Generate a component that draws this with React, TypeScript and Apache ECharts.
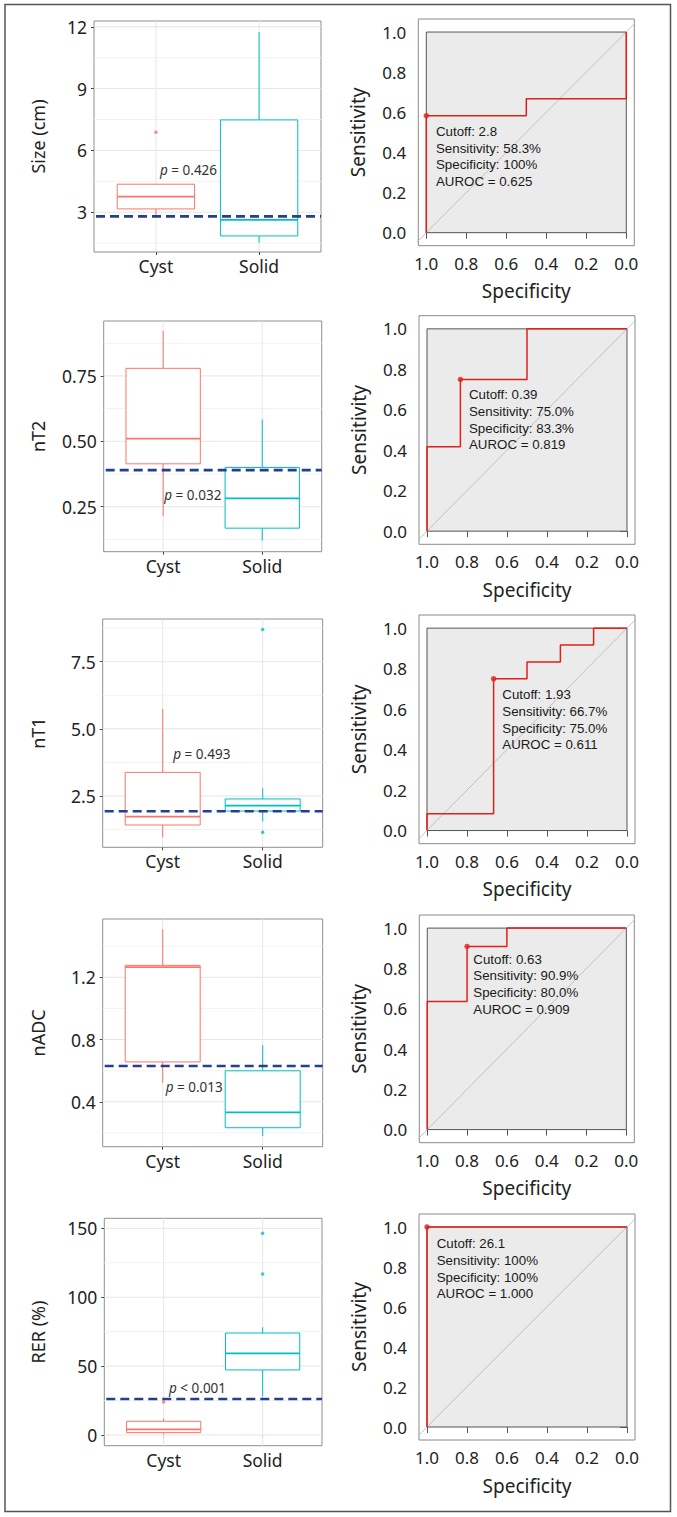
import React, { useEffect, useRef } from "react";
import * as echarts from "echarts";

// ---------------- Data ----------------
const CATEGORIES = ["Cyst", "Solid"];
const CATEGORY_POS = [1, 2];

const VARIABLE_NAMES = ["Size (cm)", "nT2", "nT1", "nADC", "RER (%)"];

// y-axis ranges of the box-plot panels
const BOX_Y_RANGES = [
  [1.07, 12.28],
  [0.078, 0.96],
  [0.59, 9.09],
  [0.111, 1.575],
  [-7.8, 157.3],
];
const BOX_Y_TICKS = [
  [3, 6, 9, 12],
  [0.25, 0.5, 0.75],
  [2.5, 5, 7.5],
  [0.4, 0.8, 1.2],
  [0, 50, 100, 150],
];
const BOX_Y_TICK_LABELS = [
  ["3", "6", "9", "12"],
  ["0.25", "0.50", "0.75"],
  ["2.5", "5.0", "7.5"],
  ["0.4", "0.8", "1.2"],
  ["0", "50", "100", "150"],
];
const BOX_Y_MINOR = [
  [1.5, 4.5, 7.5, 10.5],
  [0.125, 0.375, 0.625, 0.875],
  [1.25, 3.75, 6.25, 8.75],
  [0.2, 0.6, 1.0, 1.4],
  [25, 75, 125],
];

// [lower whisker, Q1, median, Q3, upper whisker]
const CYST_BOXES = [
  [2.87, 3.16, 3.76, 4.36, 4.36],
  [0.214, 0.414, 0.51, 0.779, 0.922],
  [0.96, 1.42, 1.73, 3.38, 5.74],
  [0.522, 0.656, 1.266, 1.277, 1.509],
  [0.5, 1.7, 4.1, 9.9, 12.0],
];
const SOLID_BOXES = [
  [1.52, 1.85, 2.63, 7.48, 11.74],
  [0.12, 0.168, 0.282, 0.4, 0.583],
  [1.55, 1.94, 2.14, 2.39, 2.79],
  [0.18, 0.233, 0.332, 0.599, 0.763],
  [27.8, 47.2, 59.3, 74.0, 78.2],
];
const CYST_OUTLIERS = [[6.88], [], [], [], [24]];
const SOLID_OUTLIERS = [[], [], [8.7, 1.15], [], [146.4, 116.9]];

const CUTOFFS = [2.8, 0.39, 1.93, 0.63, 26.1];
const P_VALUES = ["= 0.426", "= 0.032", "= 0.493", "= 0.013", "< 0.001"];

// ROC curves: [specificity, sensitivity]
const ROC_CURVES = [
  [[1, 0], [1, 0.583], [0.5, 0.583], [0.5, 0.667], [0, 0.667], [0, 1]],
  [[1, 0], [1, 0.417], [0.833, 0.417], [0.833, 0.75], [0.5, 0.75], [0.5, 1], [0, 1]],
  [[1, 0], [1, 0.083], [0.667, 0.083], [0.667, 0.75], [0.5, 0.75], [0.5, 0.833], [0.333, 0.833], [0.333, 0.917], [0.167, 0.917], [0.167, 1], [0, 1]],
  [[1, 0], [1, 0.636], [0.8, 0.636], [0.8, 0.909], [0.6, 0.909], [0.6, 1], [0, 1]],
  [[1, 0], [1, 1], [0, 1]],
];
const ROC_OPTIMAL = [[1, 0.583], [0.833, 0.75], [0.667, 0.75], [0.8, 0.909], [1, 1]];
const ROC_CUTOFF_TEXT = ["2.8", "0.39", "1.93", "0.63", "26.1"];
const ROC_SENS_TEXT = ["58.3%", "75.0%", "66.7%", "90.9%", "100%"];
const ROC_SPEC_TEXT = ["100%", "83.3%", "75.0%", "80.0%", "100%"];
const ROC_AUC_TEXT = ["0.625", "0.819", "0.611", "0.909", "1.000"];
const ROC_TICKS = [0, 0.2, 0.4, 0.6, 0.8, 1.0];
const ROC_X_RANGE = [-0.04, 1.04];
const ROC_Y_RANGE = [-0.065, 1.065];

// ---------------- Layout ----------------
const BOX_GRIDS = [
  { left: 94, top: 21, width: 227, height: 231 },
  { left: 103.7, top: 321, width: 218, height: 230.7 },
  { left: 102.7, top: 619, width: 220, height: 228.3 },
  { left: 102.7, top: 919, width: 220, height: 227.7 },
  { left: 104.3, top: 1218.3, width: 217.7, height: 227.4 },
];
const ROC_GRIDS = [
  { left: 418.3, top: 19, width: 216, height: 226.7 },
  { left: 419, top: 315.7, width: 216, height: 228.6 },
  { left: 419, top: 615, width: 216, height: 228.7 },
  { left: 419.3, top: 915, width: 215, height: 227.7 },
  { left: 419, top: 1214, width: 216, height: 226 },
];
const P_TEXT_POS = [[160, 170], [164.3, 495], [173.3, 754], [165.7, 1086.7], [169, 1388.3]];
const ROC_TEXT_POS = [[436, 131.7], [469, 395], [502.3, 695], [473.3, 959.3], [436.7, 1244]];

const FONT = "'Noto Sans', 'DejaVu Sans', sans-serif";
const ARIAL = "'Liberation Sans', Arial, sans-serif";
const CYST_COLOR = "#F8766D";
const SOLID_COLOR = "#00BFC4";
const CUT_COLOR = "#21408f";
const ROC_RED = "#e0201b";

function buildOption() {
  const grid: any[] = [];
  const xAxis: any[] = [];
  const yAxis: any[] = [];
  const series: any[] = [];
  const graphics: any[] = [];

  for (let r = 0; r < 5; r++) {
    // ---------- box plot panel ----------
    const bg = BOX_GRIDS[r];
    const gi = grid.length;
    grid.push({
      left: bg.left, top: bg.top, width: bg.width, height: bg.height,
      show: true, backgroundColor: "#fff", borderColor: "#8f8f8f", borderWidth: 1,
      containLabel: false, outerBoundsMode: "none",
    });
    const ticks = BOX_Y_TICKS[r];
    const tickLabels = BOX_Y_TICK_LABELS[r];
    xAxis.push({
      type: "value", gridIndex: gi, min: 0.4, max: 2.6,
      axisLine: { show: false },
      splitLine: { show: false },
      axisTick: { show: true, length: 3, customValues: CATEGORY_POS, lineStyle: { color: "#444" } },
      axisLabel: {
        customValues: CATEGORY_POS, margin: 5, fontSize: 17.5, color: "#222", fontFamily: FONT,
        formatter: (v: number) => CATEGORIES[Math.round(v) - 1] ?? "",
      },
    });
    yAxis.push({
      type: "value", gridIndex: gi, min: BOX_Y_RANGES[r][0], max: BOX_Y_RANGES[r][1],
      axisLine: { show: false },
      splitLine: { show: false },
      axisTick: { show: true, length: 3, customValues: ticks, lineStyle: { color: "#444" } },
      axisLabel: {
        customValues: ticks, margin: 7, fontSize: 17.5, color: "#222", fontFamily: FONT,
        formatter: (v: number) => {
          const i = ticks.findIndex((t) => Math.abs(t - v) < 1e-9);
          return i >= 0 ? tickLabels[i] : "";
        },
      },
      name: VARIABLE_NAMES[r], nameLocation: "middle", nameRotate: 90,
      nameGap: bg.left - 47, nameMoveOverlap: false,
      nameTextStyle: { fontSize: 18, color: "#222", fontFamily: FONT },
    });

    // grid lines
    const gridData = [
      ...ticks.map((v) => [1.5, v, 0]),
      ...BOX_Y_MINOR[r].map((v) => [1.5, v, 1]),
      ...CATEGORY_POS.map((c) => [c, BOX_Y_RANGES[r][0], 2]),
    ];
    series.push({
      type: "custom", xAxisIndex: gi, yAxisIndex: gi, silent: true, z: 1, clip: true,
      data: gridData,
      renderItem: (params: any, api: any) => {
        const cs = params.coordSys;
        const kind = api.value(2);
        const p = api.coord([api.value(0), api.value(1)]);
        if (kind === 2) {
          return { type: "line", shape: { x1: p[0], y1: cs.y, x2: p[0], y2: cs.y + cs.height }, style: { stroke: "#e6e6e6", lineWidth: 1 } };
        }
        return {
          type: "line",
          shape: { x1: cs.x, y1: p[1], x2: cs.x + cs.width, y2: p[1] },
          style: { stroke: kind === 1 ? "#f2f2f2" : "#e6e6e6", lineWidth: 1 },
        };
      },
    });

    // boxes
    const boxSets = [
      { data: CYST_BOXES[r], pos: CATEGORY_POS[0], color: CYST_COLOR, out: CYST_OUTLIERS[r] },
      { data: SOLID_BOXES[r], pos: CATEGORY_POS[1], color: SOLID_COLOR, out: SOLID_OUTLIERS[r] },
    ];
    boxSets.forEach((b) => {
      series.push({
        type: "custom", xAxisIndex: gi, yAxisIndex: gi, silent: true, z: 3, clip: true,
        data: [[b.pos, ...b.data]],
        renderItem: (params: any, api: any) => {
          const x = api.value(0);
          const lo = api.value(1), q1 = api.value(2), md = api.value(3), q3 = api.value(4), hi = api.value(5);
          const half = 0.375;
          const tl = api.coord([x - half, q3]);
          const br = api.coord([x + half, q1]);
          const mL = api.coord([x - half, md]);
          const mR = api.coord([x + half, md]);
          const pHi = api.coord([x, hi]);
          const pLo = api.coord([x, lo]);
          return {
            type: "group",
            children: [
              { type: "line", shape: { x1: pHi[0], y1: pHi[1], x2: pHi[0], y2: tl[1] }, style: { stroke: b.color, lineWidth: 1 } },
              { type: "line", shape: { x1: pLo[0], y1: br[1], x2: pLo[0], y2: pLo[1] }, style: { stroke: b.color, lineWidth: 1 } },
              { type: "rect", shape: { x: tl[0], y: tl[1], width: br[0] - tl[0], height: br[1] - tl[1] }, style: { fill: "#fff", stroke: b.color, lineWidth: 1 } },
              { type: "line", shape: { x1: mL[0], y1: mL[1], x2: mR[0], y2: mR[1] }, style: { stroke: b.color, lineWidth: 1.8 } },
            ],
          };
        },
      });
      if (b.out.length) {
        series.push({
          type: "scatter", xAxisIndex: gi, yAxisIndex: gi, silent: true, z: 4,
          symbol: "circle", symbolSize: 3.6,
          itemStyle: { color: b.color },
          data: b.out.map((v) => [b.pos, v]),
        });
      }
    });

    // cutoff dashed line
    series.push({
      type: "custom", xAxisIndex: gi, yAxisIndex: gi, silent: true, z: 6, clip: true,
      data: [[1.5, CUTOFFS[r]]],
      renderItem: (params: any, api: any) => {
        const cs = params.coordSys;
        const y = api.coord([api.value(0), api.value(1)])[1];
        return {
          type: "line",
          shape: { x1: cs.x + 2, y1: y, x2: cs.x + cs.width, y2: y },
          style: { stroke: CUT_COLOR, lineWidth: 2.6, lineDash: [9, 5] },
        };
      },
    });

    graphics.push({
      type: "text", x: P_TEXT_POS[r][0], y: P_TEXT_POS[r][1], silent: true, z: 10,
      style: {
        text: "{i|p} " + P_VALUES[r],
        fontSize: 13.5, fontFamily: FONT, fill: "#333",
        verticalAlign: "middle", align: "left",
        rich: { i: { fontStyle: "italic", fontSize: 13.5, fontFamily: FONT, fill: "#333" } },
      },
    });

    // ---------- ROC panel ----------
    const rg = ROC_GRIDS[r];
    const ri = grid.length;
    grid.push({
      left: rg.left, top: rg.top, width: rg.width, height: rg.height,
      show: true, backgroundColor: "#fff", borderColor: "#8a8a8a", borderWidth: 1,
      containLabel: false, outerBoundsMode: "none",
    });
    xAxis.push({
      type: "value", gridIndex: ri, min: ROC_X_RANGE[0], max: ROC_X_RANGE[1], inverse: true,
      axisLine: { show: false }, splitLine: { show: false },
      axisTick: { show: true, length: 6, customValues: ROC_TICKS, lineStyle: { color: "#555" } },
      axisLabel: {
        customValues: ROC_TICKS, margin: 9, fontSize: 17, color: "#222", fontFamily: FONT,
        formatter: (v: number) => v.toFixed(1),
      },
      name: "Specificity", nameLocation: "middle", nameGap: 36, nameMoveOverlap: false,
      nameTextStyle: { fontSize: 19, color: "#222", fontFamily: FONT },
    });
    yAxis.push({
      type: "value", gridIndex: ri, min: ROC_Y_RANGE[0], max: ROC_Y_RANGE[1],
      axisLine: { show: false }, splitLine: { show: false },
      axisTick: { show: true, length: 7, customValues: ROC_TICKS, lineStyle: { color: "#555" } },
      axisLabel: {
        customValues: ROC_TICKS, margin: 12, fontSize: 17, color: "#222", fontFamily: FONT,
        formatter: (v: number) => v.toFixed(1),
      },
      name: "Sensitivity", nameLocation: "middle", nameRotate: 90, nameGap: 51, nameMoveOverlap: false,
      nameTextStyle: { fontSize: 19, color: "#222", fontFamily: FONT },
    });

    // inner plotting rectangle (0..1 x 0..1)
    series.push({
      type: "custom", xAxisIndex: ri, yAxisIndex: ri, silent: true, z: 1,
      data: [[0, 0, 1, 1]],
      renderItem: (params: any, api: any) => {
        const a = api.coord([api.value(0), api.value(1)]);
        const b = api.coord([api.value(2), api.value(3)]);
        const x = Math.min(a[0], b[0]), y = Math.min(a[1], b[1]);
        return {
          type: "rect",
          shape: { x, y, width: Math.abs(b[0] - a[0]), height: Math.abs(b[1] - a[1]) },
          style: { fill: "#ebebeb", stroke: "#555", lineWidth: 1 },
        };
      },
    });
    // chance line (sensitivity = 1 - specificity)
    series.push({
      type: "line", xAxisIndex: ri, yAxisIndex: ri, silent: true, z: 2, clip: true,
      symbol: "none", lineStyle: { color: "#b5b5b5", width: 0.8 },
      data: [-0.2, 1.2].map((s) => [s, 1 - s]),
    });
    // ROC curve
    series.push({
      type: "line", xAxisIndex: ri, yAxisIndex: ri, silent: true, z: 3, clip: false,
      symbol: "none", lineStyle: { color: ROC_RED, width: 1.5 },
      data: ROC_CURVES[r],
    });
    series.push({
      type: "scatter", xAxisIndex: ri, yAxisIndex: ri, silent: true, z: 4,
      symbol: "circle", symbolSize: 5.5, itemStyle: { color: ROC_RED },
      data: [ROC_OPTIMAL[r]],
    });

    const lines = [
      "Cutoff: " + ROC_CUTOFF_TEXT[r],
      "Sensitivity: " + ROC_SENS_TEXT[r],
      "Specificity: " + ROC_SPEC_TEXT[r],
      "AUROC = " + ROC_AUC_TEXT[r],
    ];
    const lh = 16.6;
    graphics.push({
      type: "text", x: ROC_TEXT_POS[r][0], y: ROC_TEXT_POS[r][1] - lh / 2, silent: true, z: 10,
      style: {
        text: lines.join("\n"), fontSize: 13.3, fontFamily: ARIAL, fill: "#1a1a1a",
        lineHeight: lh, verticalAlign: "top", align: "left",
      },
    });
  }

  // outer figure frame
  graphics.push({
    type: "rect", silent: true, z: 20,
    shape: { x: 5, y: 4.5, width: 665.5, height: 1507 },
    style: { fill: "none", stroke: "#555", lineWidth: 1.5 },
  });

  return {
    animation: false,
    backgroundColor: "#fff",
    grid, xAxis, yAxis, series,
    graphic: { elements: graphics },
  };
}

export default function App() {
  const ref = useRef<HTMLDivElement>(null);
  useEffect(() => {
    if (!ref.current) return;
    const chart = echarts.init(ref.current, null, { renderer: "svg" });
    chart.setOption(buildOption() as any);
    return () => chart.dispose();
  }, []);
  return (
    <div
      ref={ref}
      style={{ position: "absolute", left: 0, top: 0, width: 677, height: 1517, background: "#fff" }}
    />
  );
}
